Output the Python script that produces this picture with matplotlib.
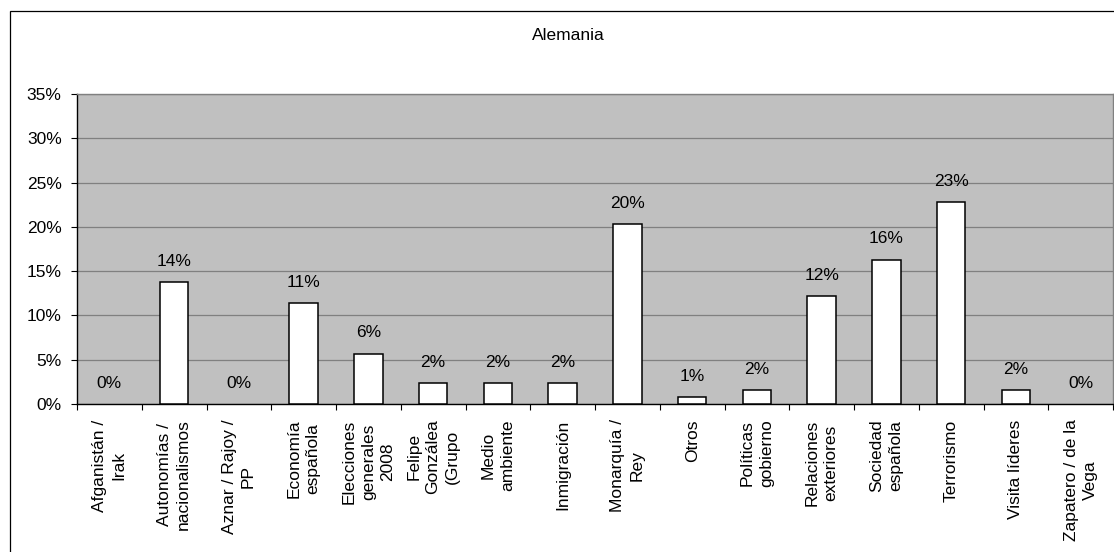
import matplotlib
matplotlib.use("Agg")
import matplotlib.pyplot as plt
from matplotlib.patches import Rectangle
from matplotlib.ticker import FuncFormatter, FixedLocator

plt.rcParams['font.family'] = ['Liberation Sans', 'DejaVu Sans']

title = "Alemania"
categories = [
    "Afganistán /\nIrak",
    "Autonomías /\nnacionalismos",
    "Aznar / Rajoy /\nPP",
    "Economía\nespañola",
    "Elecciones\ngenerales\n2008",
    "Felipe\nGonzálea\n(Grupo",
    "Medio\nambiente",
    "Inmigración",
    "Monarquía /\nRey",
    "Otros",
    "Políticas\ngobierno",
    "Relaciones\nexteriores",
    "Sociedad\nespañola",
    "Terrorismo",
    "Visita líderes",
    "Zapatero / de la\nVega",
]
values = [0.0, 13.8, 0.0, 11.4, 5.7, 2.4, 2.4, 2.4, 20.3, 0.8, 1.6, 12.2, 16.3, 22.8, 1.6, 0.0]
y_ticks = [0, 5, 10, 15, 20, 25, 30, 35]

FS = 12.5

W, H = 1114, 552
fig = plt.figure(figsize=(W / 100, H / 100), dpi=100)
fig.patch.set_facecolor('white')

# outer chart border
fig.patches.append(Rectangle((9.5 / W, 0 - 0.01), 1.05, 1 - 10.5 / H + 0.01,
                             transform=fig.transFigure, fill=False,
                             edgecolor='black', linewidth=0.9, zorder=0))

ax = fig.add_axes([77 / W, 1 - 404 / H, (1113 - 77) / W, (404 - 94) / H])
ax.set_facecolor('#C0C0C0')

n = len(categories)
x = list(range(n))
edge_colors = ['none' if v == 0 else 'black' for v in values]
bars = ax.bar(x, values, width=0.44, color='white', edgecolor=edge_colors,
              linewidth=1.1, zorder=3)

for xi, v in zip(x, values):
    ax.annotate(f"{round(v):.0f}%", xy=(xi, v), xytext=(0, 9.5),
                textcoords='offset points', ha='center', va='bottom',
                fontsize=FS, color='black', zorder=4)

ax.set_xlim(-0.5, n - 0.5)
ax.set_ylim(0, 35)
ax.set_yticks(y_ticks)
ax.yaxis.set_major_formatter(FuncFormatter(lambda v, p: f"{v:.0f}%"))
ax.yaxis.grid(True, color='#808080', linewidth=0.9, zorder=1)
ax.set_axisbelow(True)

# major ticks at category boundaries, labels at centers (minor)
ax.xaxis.set_major_locator(FixedLocator([i - 0.5 for i in range(n + 1)]))
ax.xaxis.set_major_formatter(FuncFormatter(lambda v, p: ""))
ax.xaxis.set_minor_locator(FixedLocator(x))
ax.set_xticklabels(categories, minor=True, rotation=90, fontsize=FS,
                   ha='center', va='top', multialignment='center',
                   linespacing=1.35)
ax.tick_params(axis='x', which='major', direction='out', length=4.5,
               width=0.8, color='black')
ax.tick_params(axis='x', which='minor', length=0, pad=11)
ax.tick_params(axis='y', direction='out', length=4, width=0.8,
               labelsize=FS, pad=7)

for s in ['left', 'bottom']:
    ax.spines[s].set_color('black')
    ax.spines[s].set_linewidth(1.0)
for s in ['top', 'right']:
    ax.spines[s].set_color('#808080')
    ax.spines[s].set_linewidth(1.0)

fig.text(568 / W, 1 - 35 / H, title, ha='center', va='center', fontsize=FS)

fig.savefig('out.png', dpi=100)
